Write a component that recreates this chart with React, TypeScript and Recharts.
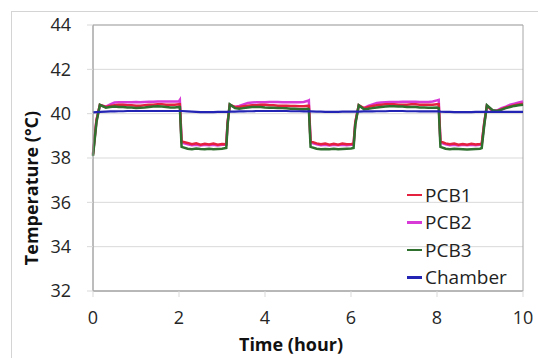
import { LineChart, Line, XAxis, YAxis, CartesianGrid, ReferenceArea } from 'recharts';

// hours
const TIME = [
  0, 0.08, 0.16, 0.3, 0.4, 0.5, 0.6, 0.7, 0.8, 0.9, 1.0, 1.1, 1.2, 1.3, 1.4, 1.5, 1.6, 1.7, 1.8, 1.9, 2.0, 2.02, 2.06,
  2.2, 2.3, 2.4, 2.5, 2.6, 2.7, 2.8, 2.9, 3.0, 3.1,
  3.13, 3.18, 3.3,
  3.4, 3.5, 3.6, 3.7, 3.8, 3.9, 4.0, 4.1, 4.2, 4.3, 4.4, 4.5, 4.6, 4.7, 4.8, 4.9, 5.0,
  5.02, 5.06,
  5.2, 5.3, 5.4, 5.5, 5.6, 5.7, 5.8, 5.9, 6.0,
  6.06, 6.1, 6.18, 6.3,
  6.4, 6.5, 6.6, 6.7, 6.8, 6.9, 7.0, 7.1, 7.2, 7.3, 7.4, 7.5, 7.6, 7.7, 7.8, 7.9, 8.0,
  8.04, 8.08,
  8.2, 8.3, 8.4, 8.5, 8.6, 8.7, 8.8, 8.9, 9.0,
  9.04, 9.1, 9.16, 9.3,
  9.4, 9.5, 9.6, 9.7, 9.8, 9.9, 10.0,
];

const PCB1 = [
  38.15, 39.7, 40.4, 40.3, 40.35, 40.38, 40.4, 40.4, 40.38, 40.38, 40.36, 40.36, 40.38, 40.4, 40.4, 40.42, 40.42, 40.4, 40.4, 40.4, 40.42, 40.42, 38.75,
  38.68, 38.62, 38.66, 38.6, 38.64, 38.61, 38.65, 38.6, 38.63, 38.62,
  39.6, 40.4, 40.3,
  40.3, 40.33, 40.36, 40.38, 40.38, 40.4, 40.4, 40.38, 40.38, 40.36, 40.36, 40.36, 40.35, 40.35, 40.34, 40.34, 40.36,
  40.36, 38.75,
  38.66, 38.62, 38.65, 38.6, 38.64, 38.6, 38.65, 38.62, 38.63,
  38.64, 39.6, 40.38, 40.25,
  40.3, 40.35, 40.38, 40.4, 40.42, 40.42, 40.42, 40.4, 40.4, 40.4, 40.42, 40.42, 40.4, 40.4, 40.4, 40.4, 40.42,
  40.42, 38.75,
  38.66, 38.62, 38.65, 38.6, 38.63, 38.6, 38.64, 38.61, 38.63,
  38.64, 39.6, 40.35, 40.12,
  40.12, 40.2, 40.28, 40.33, 40.38, 40.42, 40.45,
];

const PCB2 = [
  38.2, 39.7, 40.38, 40.32, 40.42, 40.5, 40.52, 40.52, 40.52, 40.52, 40.53, 40.52, 40.53, 40.54, 40.54, 40.55, 40.55, 40.55, 40.55, 40.55, 40.56, 40.62, 38.7,
  38.62, 38.58, 38.6, 38.57, 38.6, 38.58, 38.6, 38.57, 38.6, 38.6,
  39.6, 40.38, 40.3,
  40.35, 40.42, 40.48, 40.5, 40.52, 40.52, 40.52, 40.53, 40.53, 40.53, 40.52, 40.52, 40.52, 40.52, 40.52, 40.53, 40.58,
  40.6, 38.7,
  38.62, 38.58, 38.6, 38.57, 38.6, 38.58, 38.6, 38.58, 38.6,
  38.6, 39.6, 40.36, 40.25,
  40.35, 40.42, 40.48, 40.5, 40.52, 40.53, 40.53, 40.53, 40.54, 40.54, 40.54, 40.54, 40.53, 40.53, 40.53, 40.55, 40.6,
  40.62, 38.7,
  38.62, 38.58, 38.6, 38.57, 38.6, 38.58, 38.6, 38.58, 38.6,
  38.6, 39.6, 40.35, 40.12,
  40.15, 40.25, 40.32, 40.4, 40.45, 40.5, 40.55,
];

const PCB3 = [
  38.1, 39.6, 40.4, 40.27, 40.3, 40.32, 40.3, 40.3, 40.28, 40.28, 40.26, 40.27, 40.28, 40.3, 40.32, 40.33, 40.32, 40.3, 40.28, 40.28, 40.3, 40.3, 38.5,
  38.42, 38.4, 38.43, 38.41, 38.4, 38.42, 38.4, 38.41, 38.42, 38.45,
  39.5, 40.42, 40.25,
  40.22, 40.25, 40.28, 40.3, 40.3, 40.3, 40.28, 40.27, 40.27, 40.26, 40.25, 40.24, 40.22, 40.22, 40.2, 40.2, 40.22,
  40.2, 38.5,
  38.42, 38.4, 38.41, 38.4, 38.42, 38.4, 38.41, 38.42, 38.43,
  38.45, 39.5, 40.38, 40.2,
  40.22, 40.25, 40.28, 40.3, 40.32, 40.33, 40.33, 40.32, 40.32, 40.3, 40.3, 40.3, 40.28, 40.28, 40.27, 40.27, 40.28,
  40.25, 38.5,
  38.42, 38.4, 38.42, 38.41, 38.4, 38.38, 38.4, 38.41, 38.42,
  38.45, 39.5, 40.38, 40.15,
  40.12, 40.18, 40.25, 40.3, 40.35, 40.38, 40.4,
];

const CHAMBER = [
  40.06, 40.07, 40.08, 40.09, 40.1, 40.1, 40.11, 40.11, 40.12, 40.12, 40.12, 40.12, 40.12, 40.12, 40.12, 40.12, 40.12, 40.12, 40.12, 40.12, 40.12, 40.12, 40.12,
  40.1, 40.09, 40.08, 40.07, 40.07, 40.07, 40.07, 40.08, 40.08, 40.08,
  40.08, 40.09, 40.09,
  40.1, 40.1, 40.11, 40.11, 40.12, 40.12, 40.12, 40.12, 40.12, 40.12, 40.12, 40.12, 40.11, 40.11, 40.11, 40.1, 40.1,
  40.1, 40.1,
  40.09, 40.09, 40.08, 40.08, 40.08, 40.08, 40.09, 40.09, 40.09,
  40.09, 40.09, 40.09, 40.1,
  40.1, 40.1, 40.11, 40.11, 40.11, 40.12, 40.12, 40.12, 40.12, 40.11, 40.11, 40.11, 40.1, 40.1, 40.1, 40.1, 40.1,
  40.1, 40.09,
  40.08, 40.08, 40.07, 40.07, 40.07, 40.07, 40.07, 40.08, 40.08,
  40.08, 40.08, 40.08, 40.08,
  40.08, 40.08, 40.08, 40.08, 40.08, 40.08, 40.08,
];

const X_TICKS = [0, 2, 4, 6, 8, 10];
const Y_TICKS = [32, 34, 36, 38, 40, 42, 44];

const SERIES = [
  { key: 'PCB1', color: '#e4223f' },
  { key: 'PCB2', color: '#d83ad8' },
  { key: 'PCB3', color: '#2f702f' },
  { key: 'Chamber', color: '#2323b4' },
];

const data = TIME.map((t, i) => ({
  t,
  PCB1: PCB1[i],
  PCB2: PCB2[i],
  PCB3: PCB3[i],
  Chamber: CHAMBER[i],
}));

const FONT = '"Open Sans", sans-serif';

const App = () => {
  return (
    <div style={{ position: 'fixed', left: 0, top: 0, width: 538, height: 358, background: '#fff', overflow: 'hidden' }}>
      <div style={{ position: 'absolute', left: 11, top: 11, width: 540, height: 360, borderTop: '1px solid #d4d4d4', borderLeft: '1px solid #d4d4d4' }} />
      <LineChart width={538} height={358} data={data} margin={{ top: 25, right: 15, bottom: 0, left: 0 }}>
        <CartesianGrid vertical={false} stroke="#d9d9d9" />
        <XAxis
          dataKey="t"
          type="number"
          domain={[0, 10]}
          ticks={X_TICKS}
          height={67}
          axisLine={{ stroke: '#a6a6a6' }}
          tickLine={{ stroke: '#d9d9d9' }}
          tickSize={6}
          tickMargin={14}
          tick={{ fill: '#262626', fontSize: 18, fontFamily: FONT }}
          label={{
            content: () => (
              <text x={291} y={351} textAnchor="middle" fill="#111" fontSize={18} fontWeight={700} fontFamily={FONT}>
                Time (hour)
              </text>
            ),
          }}
        />
        <YAxis
          type="number"
          domain={[32, 44]}
          ticks={Y_TICKS}
          width={93}
          axisLine={{ stroke: '#a6a6a6' }}
          tickLine={{ stroke: '#d9d9d9' }}
          tickSize={6}
          tickMargin={16}
          tick={{ fill: '#262626', fontSize: 18, fontFamily: FONT }}
          label={{
            content: () => (
              <text x={38} y={188} transform="rotate(-90, 38, 188)" textAnchor="middle" fill="#111" fontSize={18} fontWeight={700} fontFamily={FONT}>
                Temperature (°C)
              </text>
            ),
          }}
        />
        <ReferenceArea x1={0} x2={10} y1={32} y2={44} fill="none" stroke="#a6a6a6" strokeWidth={1} />
        <Line dataKey="PCB2" stroke="#d83ad8" strokeWidth={2.5} dot={false} isAnimationActive={false} />
        <Line dataKey="PCB1" stroke="#e4223f" strokeWidth={2.5} dot={false} isAnimationActive={false} />
        <Line dataKey="PCB3" stroke="#2f702f" strokeWidth={2.5} dot={false} isAnimationActive={false} />
        <Line dataKey="Chamber" stroke="#2323b4" strokeWidth={2.2} dot={false} isAnimationActive={false} />
      </LineChart>
      <div style={{ position: 'absolute', left: 407, top: 181, fontFamily: FONT, fontSize: 19, color: '#222' }}>
        {SERIES.map(s => (
          <div key={s.key} style={{ display: 'flex', alignItems: 'center', height: 27.5 }}>
            <span style={{ width: 15, height: 2.5, background: s.color, marginRight: 3 }} />
            <span>{s.key}</span>
          </div>
        ))}
      </div>
    </div>
  );
};

export default App;
